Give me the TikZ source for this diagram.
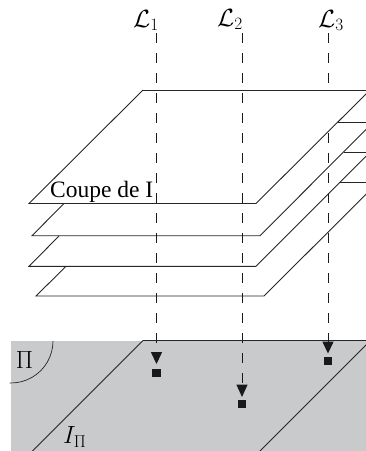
\documentclass[tikz,border=0pt]{standalone}
\usepackage{fontspec}
\setmainfont{Liberation Serif}
\begin{document}
\begin{tikzpicture}[x=1pt,y=-1pt,
  edge/.style={draw=black!85,line width=0.9pt,line cap=butt},
  ray/.style={draw=black!90,line width=1.2pt,dash pattern=on 10pt off 10pt},
  tip/.style={fill=black!90,draw=none},
  dot/.style={fill=black!90,draw=none,minimum size=8.5pt,inner sep=0pt,rectangle},
  lab/.style={inner sep=0pt,font=\fontsize{23}{25}\selectfont},
  big/.style={inner sep=0pt,font=\fontsize{27}{29}\selectfont},
  txt/.style={inner sep=0pt,font=\fontsize{23.5}{26}\selectfont}]
\useasboundingbox (0,0) rectangle (366,451);
\clip (0,0) rectangle (366,451);
% ground plane
\fill[fill={rgb,255:red,200;green,202;blue,204}] (11,341) rectangle (366,451);
\draw[edge] (143,340.5) -- (366,340.5);
\draw[edge] (143,340.5) -- (32.5,451);
\draw[edge] (370,341) -- (260,451);
\draw[edge,line width=0.7pt] (53,341) arc[start angle=0,end angle=92,radius=42];
\node[big] (pi) at (24.5,359.5) {$\Pi$};
\node[lab,anchor=base west] (ipi) at (63,443.5) {$I_\Pi$};
% third ray passes behind the top slice
\node[lab,anchor=base] (l1) at (146,27) {$\mathcal{L}_1$};
\node[lab,anchor=base] (l2) at (230,26) {$\mathcal{L}_2$};
\node[lab,anchor=base] (l3) at (331,27) {$\mathcal{L}_3$};
\coordinate (a1) at (156.6,33);
\coordinate (a2) at (242.4,33);
\coordinate (a3) at (328.4,33);
\coordinate (b1) at (156.6,343);
\coordinate (b2) at (242.4,383.5);
\coordinate (b3) at (328.4,343);
\draw[ray] (a3) -- (b3);
% slices
\fill[white] (143,90) -- (370,90) -- (256,203.5) -- (29,203.5) -- cycle;
\draw[edge] (143,90) -- (366,90);
\draw[edge] (143,90) -- (29,203.5) -- (256,203.5) -- (370,90);
\draw[edge] (64,203.5) -- (32,235.7) -- (260,235.7) -- (373,122.5);
\draw[edge] (338,122.3) -- (366,122.3);
\draw[edge] (59,236) -- (29,266.3) -- (256,266.3) -- (370,152.3);
\draw[edge] (343.7,152.3) -- (366,152.3);
\draw[edge] (66,266.3) -- (36,296) -- (264,296) -- (378,182.3);
\draw[edge] (340,182.3) -- (366,182.3);
\node[txt,anchor=base west] (coupe) at (50,197) {Coupe de I};
% rays in front
\draw[ray] (a1) -- (b1);
\draw[ray] (a2) -- (b2);
% arrow tips and points
\coordinate (t1) at (156.5,352);
\coordinate (t2) at (242,384.5);
\coordinate (t3) at (328,341.5);
\fill[tip] (t1) ++(-5.7,0) -- ++(11.4,0) -- ++(-5.7,12) -- cycle;
\fill[tip] (t2) ++(-5.7,0) -- ++(11.4,0) -- ++(-5.7,12.5) -- cycle;
\fill[tip] (t3) ++(-5.7,0) -- ++(11.4,0) -- ++(-5.7,12) -- cycle;
\node[dot] (p1) at (156.5,372.8) {};
\node[dot] (p2) at (242,404) {};
\node[dot] (p3) at (328,361) {};
\end{tikzpicture}
\end{document}
